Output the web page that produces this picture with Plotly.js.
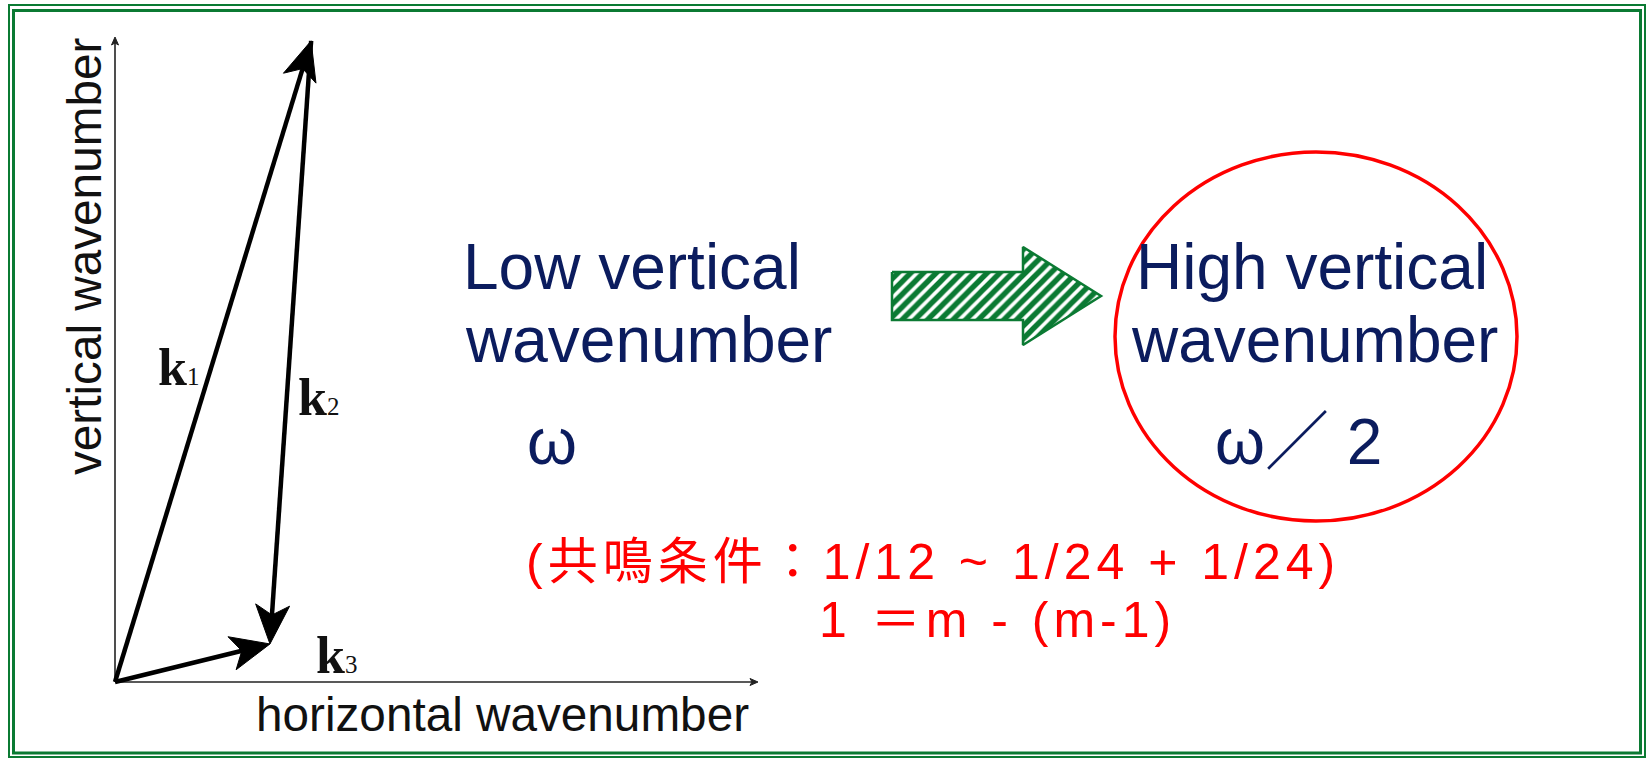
<!DOCTYPE html>
<html>
<head>
<meta charset="utf-8">
<script src="https://cdn.plot.ly/plotly-3.0.1.min.js"></script>
<style>html,body{margin:0;padding:0;background:#fff;}#chart{width:1646px;height:758px;}</style>
</head>
<body>
<div id="chart"></div>
<script>
// ---------- data: wavenumber vectors (diagram units) ----------
const vectorNames = ['1', '2', '3'];
const vecTailX = [0, 3.05, 0];
const vecTailY = [0, 9.94, 0];
const vecTipX  = [3.05, 2.41, 2.41];
const vecTipY  = [9.94, 0.59, 0.59];
const axisMaxX = 10;
const axisMaxY = 10;

// ---------- text ----------
const axisTitleX = 'horizontal wavenumber';
const axisTitleY = 'vertical wavenumber';
const leftLines = ['Low vertical', 'wavenumber', 'ω'];
const rightLines = ['High vertical', 'wavenumber', 'ω／ 2'];
const condLine1 = '(共鳴条件：1/12 ~ 1/24 + 1/24)';
const condLine2 = '1 ＝m - (m-1)';

// ---------- layout constants ----------
const W = 1646, H = 758;
const OX = 115, OY = 682;      // origin of diagram in px
const SX = 64.3, SY = 64.5;    // px per diagram unit
const NAVY = '#0b1c5e', RED = '#ff0000', GREEN = '#0b7a33';

function head(x0, y0, x1, y1, L, Wd, N) {
  const dx = (x1 - x0) * SX, dy = (y1 - y0) * SY;
  const len = Math.hypot(dx, dy);
  const ux = dx / len, uy = dy / len, nx = -uy, ny = ux;
  const offs = [
    [0, 0],
    [-L * ux + Wd * nx, -L * uy + Wd * ny],
    [-(L - N) * ux, -(L - N) * uy],
    [-L * ux - Wd * nx, -L * uy - Wd * ny],
    [0, 0]
  ];
  return {
    x: offs.map(o => x1 + o[0] / SX),
    y: offs.map(o => y1 + o[1] / SY),
    shaftEnd: [x1 - 0.55 * L * ux / SX, y1 - 0.55 * L * uy / SY]
  };
}

const traces = [];
function arrow(x0, y0, x1, y1, width, color, L, Wd, N) {
  const h = head(x0, y0, x1, y1, L, Wd, N);
  traces.push({type: 'scatter', mode: 'lines', x: [x0, h.shaftEnd[0]], y: [y0, h.shaftEnd[1]],
    line: {color: color, width: width}, hoverinfo: 'skip', showlegend: false});
  traces.push({type: 'scatter', mode: 'lines', x: h.x, y: h.y, fill: 'toself', fillcolor: color,
    line: {color: color, width: 1}, hoverinfo: 'skip', showlegend: false});
}

// axes of the diagram
arrow(0, 0, 0, axisMaxY, 1.6, '#222', 8, 3.5, 2);
arrow(0, 0, axisMaxX, 0, 1.6, '#222', 8, 3.5, 2);
// wavenumber vectors
for (let i = 0; i < vectorNames.length; i++) {
  arrow(vecTailX[i], vecTailY[i], vecTipX[i], vecTipY[i], 4.5, '#000', 39, 17, 10);
}

// green hatched block arrow (pixel overlay axes)
const ga = {x0: 892, xh: 1023, xt: 1101, yc: 296, bh: 24, hh: 49};
traces.push({type: 'scatter', mode: 'lines', xaxis: 'x2', yaxis: 'y2',
  x: [ga.x0, ga.xh, ga.xh, ga.xt, ga.xh, ga.xh, ga.x0, ga.x0],
  y: [ga.yc - ga.bh, ga.yc - ga.bh, ga.yc - ga.hh, ga.yc, ga.yc + ga.hh, ga.yc + ga.bh, ga.yc + ga.bh, ga.yc - ga.bh],
  fill: 'toself', fillcolor: 'white',
  fillpattern: {shape: '/', fgcolor: GREEN, bgcolor: 'white', size: 9, solidity: 0.6},
  line: {color: GREEN, width: 2.5}, hoverinfo: 'skip', showlegend: false});

const ann = [];
function txt(text, x, y, size, color, opts) {
  ann.push(Object.assign({text: text, x: x, y: y, xref: 'x2', yref: 'y2', showarrow: false,
    xanchor: 'center', yanchor: 'middle',
    font: {family: 'Liberation Sans, Arial, Noto Sans CJK JP, sans-serif', size: size, color: color}}, opts || {}));
}
// axis titles
txt(axisTitleX, 502, 714, 47.7, '#111');
txt(axisTitleY, 84, 257, 47.7, '#111', {textangle: -90});
// vector labels
const kLabX = [156, 296, 314], kLabY = [367, 397, 655];
for (let i = 0; i < vectorNames.length; i++) {
  txt('<b>k</b><span style="font-size:25px;font-weight:normal">' + vectorNames[i] + '</span>',
      kLabX[i], kLabY[i], 52, '#111',
      {xanchor: 'left', font: {family: 'Liberation Serif, Times New Roman, serif', size: 52, color: '#111'}});
}
// left block
txt(leftLines[0], 461, 267, 64, NAVY, {xanchor: 'left'});
txt(leftLines[1], 463, 340, 64, NAVY, {xanchor: 'left'});
txt(leftLines[2], 552, 442, 64, NAVY);
// right block
txt(rightLines[0], 1312, 267, 64, NAVY);
txt(rightLines[1], 1314, 340, 64, NAVY);
txt(rightLines[2], 1298, 442, 64, NAVY);
// resonance condition
txt('<span style="letter-spacing:5px">' + condLine1 + '</span>', 933, 562, 50, RED);
txt('<span style="letter-spacing:5px">' + condLine2 + '</span>', 997, 620, 50, RED);

const layout = {
  width: W, height: H,
  margin: {l: 0, r: 0, t: 0, b: 0, pad: 0},
  paper_bgcolor: '#fff', plot_bgcolor: '#fff',
  showlegend: false,
  xaxis: {range: [-OX / SX, (W - OX) / SX], visible: false, showgrid: false, zeroline: false, fixedrange: true},
  yaxis: {range: [-(H - OY) / SY, OY / SY], visible: false, showgrid: false, zeroline: false, fixedrange: true},
  xaxis2: {range: [0, W], overlaying: 'x', visible: false, showgrid: false, zeroline: false},
  yaxis2: {range: [H, 0], overlaying: 'y', visible: false, showgrid: false, zeroline: false},
  shapes: [
    {type: 'rect', xref: 'x2', yref: 'y2', x0: 9, x1: 1645, y0: 5, y1: 757, line: {color: GREEN, width: 2}},
    {type: 'rect', xref: 'x2', yref: 'y2', x0: 13.5, x1: 1640.5, y0: 10.5, y1: 753, line: {color: GREEN, width: 3}},
    {type: 'circle', xref: 'x2', yref: 'y2', x0: 1115, x1: 1517, y0: 152, y1: 521, line: {color: RED, width: 3.5}}
  ],
  annotations: ann
};

Plotly.newPlot('chart', traces, layout, {displayModeBar: false, staticPlot: true});
</script>
</body>
</html>
